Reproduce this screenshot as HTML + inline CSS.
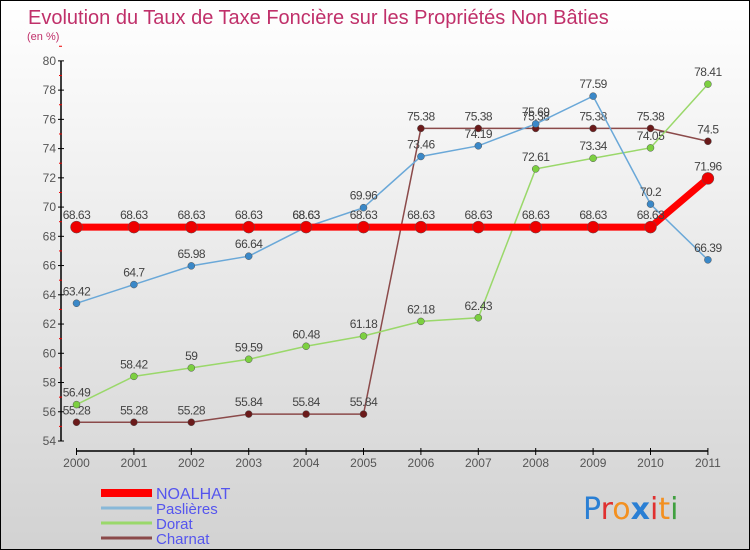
<!DOCTYPE html>
<html><head><meta charset="utf-8"><style>
body{margin:0;}
#wrap{position:relative;width:748px;height:548px;border:1px solid #000;background:linear-gradient(#fff,#d2d2d2);overflow:hidden;font-family:"Liberation Sans",sans-serif;}
svg{position:absolute;left:0;top:0}
</style></head><body>
<div id="wrap">
<svg id="chart" width="748" height="548">
<text x="27" y="23" font-size="20" fill="#c0306a">Evolution du Taux de Taxe Foncière sur les Propriétés Non Bâties</text>
<text x="26" y="39" font-size="11" fill="#c0306a">(en %)</text>
<g id="axes"></g><g id="series"></g><g id="legend"></g>
<text x="582" y="518" font-size="30" font-family="'DejaVu Sans',sans-serif"><tspan fill="#2a7fd4">P</tspan><tspan fill="#e03030">r</tspan><tspan fill="#f39020">o</tspan><tspan fill="#2a7fd4" font-weight="bold">x</tspan><tspan fill="#e03030">i</tspan><tspan fill="#f39020">t</tspan><tspan fill="#40a040">i</tspan></text>
</svg></div>
<script>
const years=["2000","2001","2002","2003","2004","2005","2006","2007","2008","2009","2010","2011"];
const yTicks=[54,56,58,60,62,64,66,68,70,72,74,76,78,80];
const noalhat=[68.63,68.63,68.63,68.63,68.63,68.63,68.63,68.63,68.63,68.63,68.63,71.96];
const paslieres=[63.42,64.7,65.98,66.64,68.63,69.96,73.46,74.19,75.69,77.59,70.2,66.39];
const dorat=[56.49,58.42,59,59.59,60.48,61.18,62.18,62.43,72.61,73.34,74.05,78.41];
const charnat=[55.28,55.28,55.28,55.84,55.84,55.84,75.38,75.38,75.38,75.38,75.38,74.5];
const seriesNames=["NOALHAT","Paslières","Dorat","Charnat"];
const NS="http://www.w3.org/2000/svg";
const x=i=>75.5+i*57.4, y=v=>440-(v-54)*14.62;
function mk(p,t,a){const e=document.createElementNS(NS,t);for(const k in a)e.setAttribute(k,a[k]);p.appendChild(e);return e;}
const ax=document.getElementById('axes');
const yl=mk(ax,'line',{x1:60,x2:60,y1:y(80),y2:y(54),stroke:'#000','stroke-width':1.5});


yTicks.forEach(v=>{
 mk(ax,'line',{x1:57,x2:63,y1:y(v),y2:y(v),stroke:'#000'});
 mk(ax,'line',{x1:58,x2:61,y1:y(v+1),y2:y(v+1),stroke:'#e00'});
 const t=mk(ax,'text',{x:55,y:y(v)+4,'text-anchor':'end','font-size':12,fill:'#555'});t.textContent=v;
 
 
});
const xl=mk(ax,'line',{x1:x(0),x2:x(11),y1:450,y2:450,stroke:'#000','stroke-width':1.5});


years.forEach((yr,i)=>{
 mk(ax,'line',{x1:x(i),x2:x(i),y1:447,y2:454,stroke:'#000'});
 const t=mk(ax,'text',{x:x(i),y:466,'text-anchor':'middle','font-size':12,fill:'#555'});t.textContent=yr;
 
 
});
const sg=document.getElementById('series');
function draw(data,color,w,r,dot,name){
 const g=mk(sg,'g',{});
 
 
 const l=mk(g,'polyline',{points:data.map((v,i)=>x(i)+','+y(v)).join(' '),fill:'none',stroke:color,'stroke-width':w});
 
 
 data.forEach((v,i)=>{
  const c=mk(g,'circle',{cx:x(i),cy:y(v),r:r,fill:dot,stroke:'#555','stroke-width':0.5});
  
  
  const t=mk(g,'text',{x:x(i),y:y(v)-8,'text-anchor':'middle','font-size':12,fill:'#444','letter-spacing':'-0.5'});t.textContent=v;
  
  
 });
}
draw(charnat,'#8b4a4a',1.5,3.5,'#6b1a1a','charnat');
draw(dorat,'#9ad86a',1.5,3.5,'#7cd040','dorat');
draw(paslieres,'#6aa8d8',1.5,3.5,'#3a88c8','paslieres');
draw(noalhat,'#ff0000',7,6,'#ee0000','noalhat');
const lg=document.getElementById('legend');
const lc=['#ff0000','#88b8d8','#9ad86a','#8b4a4a'],lw=[8,3,3,3];
seriesNames.forEach((n,i)=>{
 const yy=492+i*15;
 const g=mk(lg,'g',{});
 
 
 mk(g,'line',{x1:100,x2:151,y1:yy,y2:yy,stroke:lc[i],'stroke-width':lw[i]});
 const t=mk(g,'text',{x:155,y:yy+6,'font-size':i==0?16:15,fill:'#5555ee'});t.textContent=n;
});
</script>
</body></html>
